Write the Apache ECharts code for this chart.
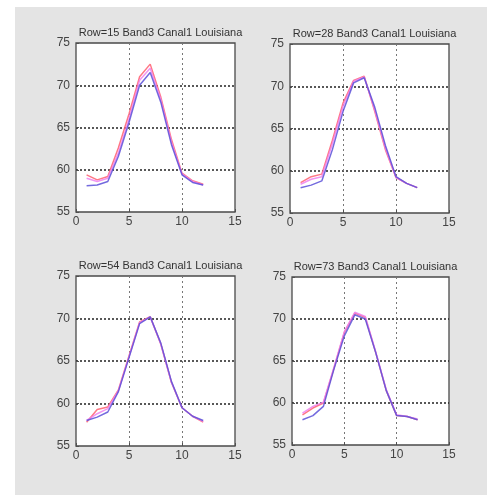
<!DOCTYPE html>
<html>
<head>
<meta charset="utf-8">
<script src="https://cdn.jsdelivr.net/npm/echarts@6/dist/echarts.min.js"></script>
<style>
  html, body { margin: 0; padding: 0; background: #fff; }
  #chart { width: 487px; height: 495px; }
</style>
</head>
<body>
<div id="chart"></div>
<script>
// months 1..12
var months = [1, 2, 3, 4, 5, 6, 7, 8, 9, 10, 11, 12];
var titles = [
    'Row=15 Band3 Canal1 Louisiana',
    'Row=28 Band3 Canal1 Louisiana',
    'Row=54 Band3 Canal1 Louisiana',
    'Row=73 Band3 Canal1 Louisiana'
];
var xTicks = [0, 5, 10, 15];
var yTicks = [55, 60, 65, 70, 75];

// values: red, magenta, blue
var row15Red     = [59.4, 58.8, 59.2, 62.6, 66.6, 71.0, 72.5, 68.6, 63.6, 59.6, 58.7, 58.3];
var row15Magenta = [59.0, 58.6, 59.0, 62.0, 66.0, 70.6, 72.0, 68.3, 63.3, 59.5, 58.6, 58.2];
var row15Blue    = [58.1, 58.2, 58.6, 61.6, 65.6, 70.0, 71.5, 68.0, 63.0, 59.4, 58.5, 58.2];

var row28Red     = [58.6, 59.3, 59.6, 63.6, 68.0, 70.7, 71.2, 67.0, 62.5, 59.2, 58.5, 58.0];
var row28Magenta = [58.4, 59.0, 59.3, 63.2, 67.6, 70.6, 71.1, 67.2, 62.7, 59.2, 58.5, 58.0];
var row28Blue    = [58.0, 58.3, 58.8, 62.5, 67.0, 70.4, 71.0, 67.5, 63.0, 59.3, 58.5, 58.0];

var row54Red     = [57.8, 59.3, 59.6, 61.6, 65.6, 69.6, 70.2, 67.0, 62.5, 59.5, 58.5, 57.8];
var row54Magenta = [58.0, 58.8, 59.4, 61.5, 65.5, 69.5, 70.2, 67.0, 62.5, 59.5, 58.5, 57.9];
var row54Blue    = [58.0, 58.4, 59.0, 61.4, 65.4, 69.4, 70.2, 67.1, 62.6, 59.5, 58.5, 58.0];

var row73Red     = [58.6, 59.4, 60.0, 64.1, 68.4, 70.7, 70.2, 66.0, 61.5, 58.5, 58.4, 58.0];
var row73Magenta = [58.8, 59.6, 60.1, 64.2, 68.5, 70.8, 70.3, 66.1, 61.6, 58.6, 58.4, 58.1];
var row73Blue    = [58.0, 58.5, 59.6, 64.0, 68.0, 70.5, 70.0, 66.0, 61.5, 58.5, 58.4, 58.0];

var panels = [
    [row15Red, row15Magenta, row15Blue],
    [row28Red, row28Magenta, row28Blue],
    [row54Red, row54Magenta, row54Blue],
    [row73Red, row73Magenta, row73Blue]
];

var lineColors = ['#ff6070', '#ee80ee', '#5a50d8'];
var font = "'Liberation Sans Narrow', 'Liberation Sans', Arial, sans-serif";

var boxes = [
    { left: 76,  top: 43,  width: 159, height: 169 },
    { left: 290, top: 44,  width: 159, height: 169 },
    { left: 76,  top: 276, width: 159, height: 170 },
    { left: 292, top: 277, width: 157, height: 168 }
];

var chart = echarts.init(document.getElementById('chart'));

var grid = [], xAxis = [], yAxis = [], title = [], series = [];
boxes.forEach(function (b, i) {
    grid.push({
        left: b.left, top: b.top, width: b.width, height: b.height,
        show: true, backgroundColor: '#ffffff', borderColor: '#4a4a4a', borderWidth: 1.3,
        containLabel: false
    });
    title.push({
        text: titles[i],
        left: b.left + b.width / 2,
        top: b.top - 21,
        textAlign: 'center',
        textStyle: { fontFamily: font, fontSize: 11, fontWeight: 'normal', color: '#333' }
    });
    xAxis.push({
        gridIndex: i, type: 'value', min: xTicks[0], max: xTicks[xTicks.length - 1], interval: 5,
        axisLine: { show: false },
        axisTick: { show: true, inside: true, length: 3, lineStyle: { color: '#505050' } },
        axisLabel: { margin: 4, fontFamily: font, fontSize: 12, color: '#444' },
        splitLine: {
            show: true, showMinLine: false, showMaxLine: false,
            lineStyle: { color: '#777', type: [2, 3], width: 1 }
        }
    });
    yAxis.push({
        gridIndex: i, type: 'value', min: yTicks[0], max: yTicks[yTicks.length - 1], interval: 5,
        axisLine: { show: false },
        axisTick: { show: true, inside: true, length: 3, lineStyle: { color: '#505050' } },
        axisLabel: { margin: 6, fontFamily: font, fontSize: 12, color: '#444' },
        splitLine: {
            show: true, showMinLine: false, showMaxLine: false,
            lineStyle: { color: '#222', type: [2, 2], width: 1.5 }
        }
    });
    panels[i].forEach(function (vals, k) {
        series.push({
            type: 'line',
            xAxisIndex: i, yAxisIndex: i,
            data: months.map(function (m, j) { return [m, vals[j]]; }),
            showSymbol: false,
            silent: true,
            lineStyle: { color: lineColors[k], width: 1.5, opacity: 0.85 },
            z: 3 + k
        });
    });
});

chart.setOption({
    animation: false,
    backgroundColor: '#ffffff',
    graphic: [{
        type: 'rect', z: -10,
        shape: { x: 15, y: 7, width: 472, height: 488 },
        style: { fill: '#e4e4e4' }
    }],
    title: title,
    grid: grid,
    xAxis: xAxis,
    yAxis: yAxis,
    series: series
});

window.addEventListener('resize', function () {
    chart.resize();
});
</script>
</body>
</html>
